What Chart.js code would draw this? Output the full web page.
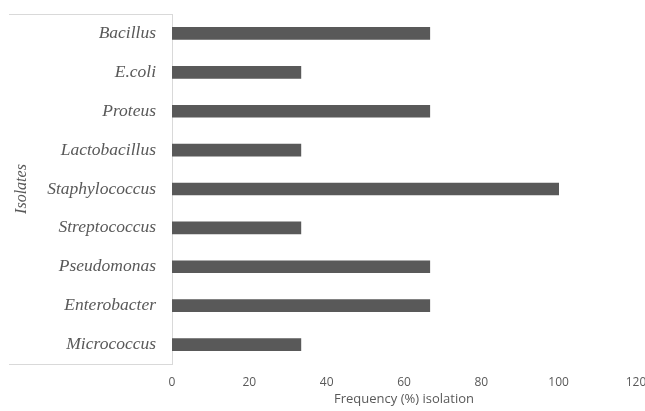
<!DOCTYPE html>
<html>
<head>
<meta charset="utf-8">
<script src="https://cdn.jsdelivr.net/npm/chart.js@4/dist/chart.umd.min.js"></script>
<style>
  html, body { margin: 0; padding: 0; background: #ffffff; }
  #wrap { width: 645px; height: 411px; }
</style>
</head>
<body>
<div id="wrap"><canvas id="c" width="645" height="411"></canvas></div>
<script>
// Isolates and their frequency of isolation (%)
const isolates = ['Bacillus', 'E.coli', 'Proteus', 'Lactobacillus', 'Staphylococcus',
                  'Streptococcus', 'Pseudomonas', 'Enterobacter', 'Micrococcus'];
const frequency = [66.67, 33.33, 66.67, 33.33, 100, 33.33, 66.67, 66.67, 33.33];
const xTicks = [0, 20, 40, 60, 80, 100, 120];

const textGrey = '#595959';
const lineGrey = '#d9d9d9';

// Light frame above and below the category label column
const labelFrame = {
  id: 'labelFrame',
  afterDraw(chart) {
    const { ctx, chartArea } = chart;
    ctx.save();
    ctx.strokeStyle = lineGrey;
    ctx.lineWidth = 1;
    ctx.beginPath();
    ctx.moveTo(9, Math.round(chartArea.top) + 0.5);
    ctx.lineTo(chartArea.left, Math.round(chartArea.top) + 0.5);
    ctx.moveTo(9, Math.round(chartArea.bottom) + 0.5);
    ctx.lineTo(chartArea.left, Math.round(chartArea.bottom) + 0.5);
    ctx.stroke();
    ctx.restore();
  }
};

new Chart(document.getElementById('c'), {
  type: 'bar',
  data: {
    labels: isolates,
    datasets: [{
      data: frequency,
      backgroundColor: '#595959',
      borderWidth: 0,
      barThickness: 12
    }]
  },
  options: {
    indexAxis: 'y',
    responsive: false,
    animation: false,
    layout: { padding: { top: 0, left: 0, right: 0, bottom: 0 } },
    plugins: { legend: { display: false }, tooltip: { enabled: false } },
    scales: {
      x: {
        min: 0,
        max: 120,
        afterBuildTicks(scale) { scale.ticks = xTicks.map(v => ({ value: v })); },
        // let the last tick label run off the right edge
        afterFit(scale) { scale.paddingRight = 9; scale.height = 47; },
        grid: { display: false, drawTicks: false },
        border: { display: false },
        ticks: {
          color: textGrey,
          padding: 11,
          font: { family: 'Open Sans', size: 12 }
        },
        title: {
          display: true,
          text: 'Frequency (%) isolation',
          color: textGrey,
          padding: { top: 0, bottom: 4 },
          font: { family: 'Open Sans', size: 13 }
        }
      },
      y: {
        grid: { display: false, drawTicks: false },
        border: { display: true, color: lineGrey, width: 1 },
        afterFit(scale) { scale.width = 172; scale.paddingTop = 14; scale.paddingBottom = 0; },
        ticks: {
          color: textGrey,
          padding: 16,
          font: { family: 'Liberation Serif', size: 17.5, style: 'italic' }
        },
        title: {
          display: true,
          text: 'Isolates',
          color: textGrey,
          padding: { top: 12, bottom: 0 },
          font: { family: 'Liberation Serif', size: 16, style: 'italic' }
        }
      }
    }
  },
  plugins: [labelFrame]
});
</script>
</body>
</html>
